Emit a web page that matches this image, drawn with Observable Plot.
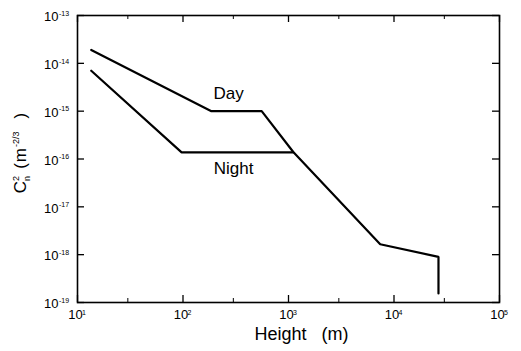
<!DOCTYPE html>
<html><head><meta charset="utf-8">
<script src="https://cdn.jsdelivr.net/npm/d3@7"></script>
<script src="https://cdn.jsdelivr.net/npm/@observablehq/plot@0.6"></script>
<style>
body{margin:0;background:#fff}
svg{font-family:"Liberation Sans",Arial,Helvetica,sans-serif}
</style>
</head><body><div id="chart"></div>
<script>
// Day profile (height in m, Cn^2 in m^-2/3)
const dayHeight = [13.5, 186, 557, 1110, 7400, 26400, 26400];
const dayCn2 = [1.9e-14, 1.0e-15, 1.0e-15, 1.4e-16, 1.65e-18, 9.0e-19, 1.55e-19];
// Night profile (joins the day curve at ~1.1 km)
const nightHeight = [13.5, 97, 1110];
const nightCn2 = [7.0e-15, 1.38e-16, 1.38e-16];
// Series labels
const seriesNames = ["Day", "Night"];
const labelHeight = [271, 302];
const labelCn2 = [2.3e-15, 6.3e-17];
// Ticks
const xMajorTicks = [1e1, 1e2, 1e3, 1e4, 1e5];
const xExponents = ["1", "2", "3", "4", "5"];
const xMinorTicks = [30, 300, 3000, 30000];
const yMajorTicks = [1e-19, 1e-18, 1e-17, 1e-16, 1e-15, 1e-14, 1e-13];
const yExponents = ["-19", "-18", "-17", "-16", "-15", "-14", "-13"];
const xLabel = "Height\u00a0\u00a0\u00a0(m)";

const W = 521, H = 351, mL = 77, mR = 22, mT = 15, mB = 49;
const innerW = W - mL - mR, innerH = H - mT - mB;

const lineData = [
  ...dayHeight.map((h, i) => ({series: "Day", h, c: dayCn2[i]})),
  ...nightHeight.map((h, i) => ({series: "Night", h, c: nightCn2[i]}))
];
const labels = seriesNames.map((s, i) => ({s, h: labelHeight[i], c: labelCn2[i]}));
const xt = xMajorTicks.map((v, i) => ({v, e: xExponents[i]}));
const yt = yMajorTicks.map((v, i) => ({v, e: yExponents[i]}));

const major = 7, minor = 4;
const chart = Plot.plot({
  width: W, height: H,
  marginLeft: mL, marginRight: mR, marginTop: mT, marginBottom: mB,
  style: {background: "white", fontFamily: "Liberation Sans, Arial, sans-serif"},
  x: {type: "log", domain: [1e1, 1e5], axis: null},
  y: {type: "log", domain: [1e-19, 1e-13], axis: null},
  marks: [
    // inward ticks
    Plot.ruleX(xMajorTicks, {x: d => d, insetTop: innerH - major, stroke: "black", strokeWidth: 1.3}),
    Plot.ruleX(xMajorTicks, {x: d => d, insetBottom: innerH - major, stroke: "black", strokeWidth: 1.3}),
    Plot.ruleX(xMinorTicks, {x: d => d, insetTop: innerH - minor, stroke: "black", strokeWidth: 1}),
    Plot.ruleX(xMinorTicks, {x: d => d, insetBottom: innerH - minor, stroke: "black", strokeWidth: 1}),
    Plot.ruleY(yMajorTicks, {y: d => d, insetRight: innerW - major, stroke: "black", strokeWidth: 1.3}),
    Plot.ruleY(yMajorTicks, {y: d => d, insetLeft: innerW - major, stroke: "black", strokeWidth: 1.3}),
    Plot.frame({stroke: "black", strokeWidth: 1.6}),
    Plot.line(lineData, {x: "h", y: "c", z: "series", stroke: "black", strokeWidth: 2.2, strokeLinejoin: "miter"}),
    Plot.text(labels, {x: "h", y: "c", text: "s", fontSize: 17, fill: "black"}),
    // x tick labels
    Plot.text(xt, {x: "v", text: () => "10", frameAnchor: "bottom", dy: 16, dx: -2, fontSize: 13, fill: "black"}),
    Plot.text(xt, {x: "v", text: "e", frameAnchor: "bottom", dy: 12.5, dx: 4.5, textAnchor: "start", fontSize: 7, fill: "black"}),
    // y tick labels
    Plot.text(yt, {y: "v", text: () => "10", frameAnchor: "left", dx: -19, dy: 1.5, textAnchor: "end", fontSize: 13, fill: "black"}),
    Plot.text(yt, {y: "v", text: "e", frameAnchor: "left", dx: -18.5, dy: -2, textAnchor: "start", fontSize: 7, fill: "black"}),
    // x axis label
    Plot.text([xLabel], {text: d => d, frameAnchor: "bottom", dy: 37, dx: 13, fontSize: 18, fill: "black", letterSpacing: 0.8})
  ]
});

// y-axis label with sub/superscripts
const svg = d3.select(chart);
const t = svg.append("text")
  .attr("transform", "translate(26,153) rotate(-90)")
  .attr("text-anchor", "middle")
  .attr("font-size", 17).attr("fill", "black")
  .attr("font-family", "Liberation Sans, Arial, sans-serif");
t.append("tspan").text("C");
t.append("tspan").attr("font-size", 9).attr("dy", -7.5).text("2");
t.append("tspan").attr("font-size", 9).attr("dx", -5).attr("dy", 11).text("n");
t.append("tspan").attr("dx", 7).attr("dy", -3.5).text("(");
t.append("tspan").attr("dx", 1).text("m");
t.append("tspan").attr("font-size", 9).attr("dx", 1).attr("dy", -7.5).text("-2/3");
t.append("tspan").attr("dx", 13).attr("dy", 7.5).text(")");

document.getElementById("chart").appendChild(chart);
</script>
</body></html>
